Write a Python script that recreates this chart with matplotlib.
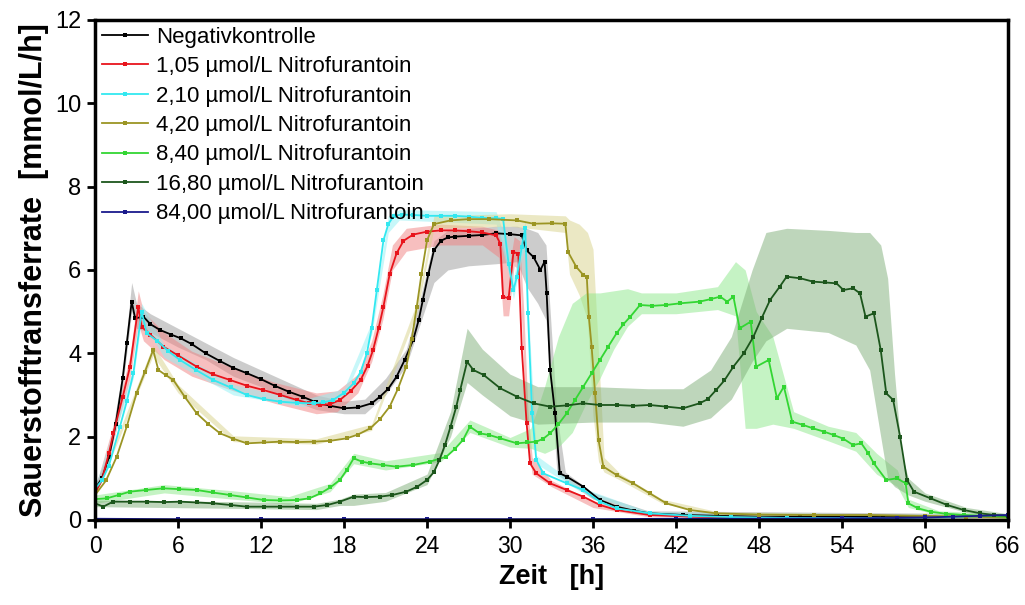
import numpy as np
import matplotlib
matplotlib.use('Agg')
import matplotlib.pyplot as plt

# Sauerstofftransferrate (OTR) über die Zeit, Mittelwert und Streuband je Ansatz
# Werte als (Zeit [h], OTR [mmol/L/h])

neg = [(0, 0.75), (0.5, 1.0), (1.0, 1.5), (1.5, 2.3), (2.0, 3.4), (2.3, 4.25), (2.65, 5.24), (2.9, 4.84),
       (3.5, 4.88), (4.0, 4.7), (4.7, 4.56), (5.5, 4.45), (6.2, 4.36), (7.0, 4.22), (8.0, 4.0), (9.0, 3.82),
       (10.0, 3.65), (11.0, 3.52), (12.0, 3.38), (13.0, 3.22), (14.0, 3.08), (15.0, 2.96), (16.0, 2.82),
       (17.0, 2.74), (18.0, 2.68), (19.0, 2.7), (20.0, 2.8), (20.6, 2.96), (21.2, 3.15), (21.8, 3.44),
       (22.4, 3.85), (23.0, 4.32), (23.4, 4.8), (23.7, 5.28), (24.1, 5.9), (24.5, 6.47), (25.0, 6.7),
       (25.5, 6.78), (26.0, 6.8), (27.0, 6.82), (28.0, 6.84), (29.0, 6.88), (30.0, 6.86), (30.85, 6.83),
       (31.2, 6.47), (31.7, 6.31), (32.2, 6.0), (32.5, 6.2), (32.65, 5.44), (32.9, 3.6), (33.26, 2.56),
       (33.6, 1.12), (34.1, 1.04), (35.3, 0.8), (36.5, 0.48), (37.7, 0.32), (39.0, 0.22), (40.1, 0.16),
       (42.5, 0.12), (45, 0.1), (48, 0.08), (51, 0.08), (54, 0.08), (57, 0.07), (60, 0.07), (63, 0.08),
       (66, 0.1)]
neg_band = [(0, 0.6, 0.85), (1, 1.35, 1.65), (2, 3.2, 3.6), (2.65, 5.0, 5.7), (3.0, 4.6, 5.2),
            (4, 4.5, 4.95), (6, 4.15, 4.6), (8, 3.85, 4.25), (10, 3.45, 3.9), (12, 3.2, 3.6),
            (14, 2.9, 3.3), (16, 2.65, 3.0), (18, 2.55, 2.85), (19.5, 2.55, 2.9), (21, 3.0, 3.4),
            (22.5, 3.7, 4.1), (23.5, 4.7, 5.3), (24.5, 5.7, 6.7), (25.5, 6.0, 6.95), (27, 6.1, 7.0),
            (29, 6.15, 7.05), (30.5, 6.2, 7.05), (31.2, 5.6, 7.0), (32, 5.2, 6.9), (32.6, 4.8, 6.6),
            (33, 3.0, 4.5), (33.4, 1.1, 2.5), (34, 0.95, 1.15), (36, 0.5, 0.65), (40, 0.12, 0.22),
            (66, 0.05, 0.15)]

n105 = [(0, 0.65), (0.5, 0.95), (1.0, 1.6), (1.33, 2.08), (2.0, 2.95), (2.53, 3.68), (3.13, 5.12),
        (3.37, 4.64), (4.0, 4.45), (4.94, 4.16), (6.0, 3.95), (7.35, 3.68), (8.5, 3.5), (9.76, 3.36),
        (11.0, 3.22), (12.17, 3.12), (13.4, 3.0), (14.6, 2.88), (15.5, 2.8), (16.3, 2.76), (17.0, 2.78),
        (17.7, 2.88), (18.5, 3.1), (19.2, 3.36), (19.7, 3.7), (20.1, 4.08), (20.5, 4.6), (20.85, 5.12),
        (21.3, 5.9), (21.8, 6.4), (22.3, 6.7), (23, 6.85), (24, 6.92), (25, 6.95), (26, 6.95), (27, 6.93),
        (28, 6.9), (29.0, 6.83), (29.3, 6.63), (29.5, 5.36), (29.9, 5.32), (30.25, 6.43), (30.6, 6.39),
        (30.85, 4.12), (31.2, 2.32), (31.45, 1.36), (31.9, 1.12), (32.9, 0.88), (34.1, 0.72), (35.3, 0.56),
        (36.5, 0.36), (37.7, 0.24), (40.1, 0.12), (43, 0.08), (46, 0.06), (50, 0.05), (54, 0.05),
        (58, 0.05), (62, 0.06), (66, 0.08)]
n105_band = [(0, 0.55, 0.75), (1.33, 1.9, 2.3), (2.53, 3.4, 3.95), (3.13, 4.7, 5.5), (3.5, 4.3, 5.0),
             (5, 3.85, 4.5), (7, 3.45, 4.05), (10, 3.1, 3.65), (13, 2.8, 3.3), (16, 2.55, 3.05),
             (17.5, 2.6, 3.1), (19, 3.05, 3.5), (20, 3.8, 4.3), (20.8, 4.8, 5.4), (21.5, 6.0, 6.6),
             (22.5, 6.45, 7.0), (25, 6.6, 7.1), (28, 6.6, 7.05), (29.2, 6.3, 6.95), (29.5, 4.9, 6.6),
             (29.9, 4.9, 6.0), (30.3, 6.1, 6.8), (30.7, 6.0, 6.7), (31.0, 3.5, 5.0), (31.3, 1.8, 2.6),
             (31.6, 1.1, 1.5), (33, 0.8, 0.95), (36, 0.3, 0.45), (40, 0.08, 0.17), (66, 0.03, 0.12)]

n210 = [(0, 0.75), (0.5, 0.95), (1.0, 1.3), (1.8, 2.24), (2.3, 2.85), (2.77, 3.52), (3.37, 5.0),
        (3.74, 4.48), (4.5, 4.3), (5.3, 4.05), (6.15, 3.84), (7.3, 3.6), (8.55, 3.36), (9.8, 3.18),
        (10.97, 3.0), (12.2, 2.9), (13.38, 2.84), (14.6, 2.81), (15.8, 2.8), (16.5, 2.82), (17.2, 2.88),
        (18.0, 3.05), (18.7, 3.28), (19.2, 3.55), (19.65, 4.0), (20.0, 4.6), (20.37, 5.52), (20.85, 6.71),
        (21.2, 7.1), (21.6, 7.3), (22.2, 7.33), (23, 7.32), (24, 7.3), (25, 7.3), (26, 7.3), (27, 7.28),
        (28, 7.25), (29.0, 7.24), (29.5, 7.23), (29.9, 6.15), (30.25, 5.52), (30.5, 5.84), (30.85, 6.55),
        (31.1, 7.0), (31.3, 4.96), (31.6, 2.56), (31.9, 1.44), (32.4, 1.12), (34.1, 0.88), (35.3, 0.72),
        (36.5, 0.44), (37.7, 0.28), (40.1, 0.16), (43, 0.1), (46, 0.07), (50, 0.05), (54, 0.05),
        (58, 0.05), (62, 0.06), (66, 0.08)]
n210_band = [(0, 0.7, 0.8), (2.77, 3.4, 3.65), (3.37, 4.8, 5.2), (5, 3.9, 4.2), (10, 3.0, 3.25),
             (15, 2.72, 2.88), (18, 2.95, 3.15), (20, 4.45, 4.75), (21.2, 6.9, 7.3), (22, 7.2, 7.45),
             (29.0, 7.1, 7.4), (29.9, 5.9, 6.5), (30.25, 5.3, 5.8), (30.85, 6.3, 6.8), (31.1, 6.6, 7.2),
             (31.3, 4.7, 5.2), (31.9, 1.35, 1.55), (35, 0.7, 0.8), (40, 0.12, 0.2), (66, 0.04, 0.12)]

n420 = [(0, 0.6), (0.8, 0.95), (1.57, 1.52), (2.3, 2.25), (3.0, 3.04), (3.6, 3.55), (4.2, 4.08),
        (4.58, 3.6), (5.1, 3.48), (5.66, 3.36), (6.5, 2.95), (7.35, 2.56), (8.2, 2.3), (9.04, 2.08),
        (10.0, 1.95), (10.97, 1.84), (12.2, 1.86), (13.38, 1.88), (14.6, 1.87), (15.8, 1.88), (17.0, 1.9),
        (18.2, 1.96), (19.0, 2.05), (19.9, 2.2), (20.6, 2.42), (21.3, 2.72), (21.9, 3.15), (22.5, 3.68),
        (22.9, 4.35), (23.26, 5.12), (23.6, 5.9), (24.0, 6.71), (24.5, 7.1), (25.7, 7.19), (27, 7.22),
        (28.5, 7.22), (30.5, 7.19), (31.7, 7.11), (33, 7.12), (34.0, 7.11), (34.2, 6.43), (34.8, 6.07),
        (35.3, 5.88), (35.55, 5.84), (35.7, 4.88), (35.9, 4.16), (36.15, 3.04), (36.4, 1.92),
        (36.75, 1.28), (37.7, 1.08), (38.9, 0.88), (40.1, 0.64), (41.3, 0.4), (43.0, 0.24), (44.9, 0.16),
        (48, 0.13), (52, 0.12), (56, 0.12), (60, 0.1), (63, 0.08), (66, 0.06)]
n420_band = [(0, 0.55, 0.65), (4.2, 3.95, 4.2), (6, 3.05, 3.25), (10, 1.88, 2.02), (16, 1.82, 1.95),
             (20, 2.15, 2.3), (23.3, 5.0, 5.25), (24.5, 7.0, 7.3), (30, 7.05, 7.35), (34.0, 6.9, 7.3),
             (34.3, 5.9, 7.2), (35.0, 5.4, 7.1), (35.6, 4.8, 6.9), (36.0, 2.5, 6.5), (36.4, 1.4, 4.0),
             (36.8, 1.15, 1.5), (38, 0.95, 1.1), (41, 0.4, 0.5), (45, 0.12, 0.2), (66, 0.03, 0.1)]

n840 = [(0, 0.5), (0.85, 0.52), (1.7, 0.6), (2.53, 0.68), (3.7, 0.72), (4.94, 0.76), (6.1, 0.74),
        (7.35, 0.72), (8.5, 0.66), (9.76, 0.6), (11.0, 0.54), (12.2, 0.48), (13.4, 0.47), (14.6, 0.48),
        (15.5, 0.52), (16.3, 0.64), (17.0, 0.78), (17.7, 0.96), (18.2, 1.2), (18.7, 1.48), (19.3, 1.4),
        (19.9, 1.36), (20.8, 1.32), (21.8, 1.28), (23.0, 1.32), (24.2, 1.4), (25.4, 1.52), (26.0, 1.7),
        (26.6, 1.92), (27.1, 2.24), (27.8, 2.08), (28.5, 2.04), (29.3, 1.96), (30.5, 1.84), (31.2, 1.86),
        (31.9, 1.88), (32.4, 1.95), (32.9, 2.08), (33.5, 2.3), (34.1, 2.56), (34.7, 2.88), (35.3, 3.2),
        (35.9, 3.52), (36.5, 3.84), (37.1, 4.16), (37.7, 4.48), (38.2, 4.7), (38.7, 4.88), (39.4, 5.16),
        (40.3, 5.14), (41.3, 5.16), (42.3, 5.2), (43.7, 5.24), (44.5, 5.3), (45.2, 5.36), (45.7, 5.24),
        (46.15, 5.36), (46.6, 4.6), (47.4, 4.76), (47.8, 3.68), (48.7, 3.84), (49.3, 2.92), (49.8, 3.2),
        (50.4, 2.36), (51.2, 2.28), (51.9, 2.2), (52.7, 2.12), (53.4, 2.04), (54.1, 1.95), (54.8, 1.8),
        (55.4, 1.84), (55.9, 1.6), (56.3, 1.36), (57.2, 0.96), (57.97, 1.0), (58.6, 0.88), (58.8, 0.4),
        (59.5, 0.28), (60.4, 0.2), (61.5, 0.15), (62.8, 0.12), (64, 0.1), (66, 0.08)]
n840_band = [(0, 0.4, 0.6), (5, 0.65, 0.85), (10, 0.5, 0.7), (14, 0.38, 0.56), (17, 0.68, 0.88),
             (18.7, 1.35, 1.6), (21, 1.2, 1.42), (25, 1.4, 1.62), (27.1, 2.1, 2.4), (30, 1.75, 1.98),
             (31.5, 1.72, 2.2), (32.5, 1.6, 3.2), (33.5, 1.75, 4.4), (34.5, 2.1, 5.2), (35.5, 2.8, 5.45),
             (36.5, 3.4, 5.45), (37.5, 4.1, 5.5), (38.5, 4.65, 5.55), (39.5, 4.95, 5.45), (42, 4.95, 5.45),
             (45, 5.05, 5.6), (46.3, 4.9, 6.2), (47, 2.2, 6.0), (47.8, 2.2, 5.0), (49, 2.3, 4.4),
             (50.5, 2.2, 2.6), (53, 1.9, 2.25), (55, 1.65, 2.1), (56.5, 1.1, 1.6), (58, 0.8, 1.2),
             (58.8, 0.3, 0.5), (61, 0.12, 0.22), (66, 0.04, 0.14)]

n1680 = [(0, 0.4), (0.6, 0.32), (1.3, 0.44), (2.5, 0.44), (3.74, 0.44), (5.0, 0.43), (6.15, 0.44),
         (7.4, 0.42), (8.55, 0.4), (9.8, 0.36), (10.97, 0.32), (12.2, 0.32), (13.4, 0.32), (14.6, 0.32),
         (15.8, 0.32), (16.8, 0.36), (17.7, 0.44), (18.7, 0.56), (19.6, 0.55), (20.6, 0.56), (21.5, 0.6),
         (22.5, 0.68), (23.3, 0.8), (24.0, 0.96), (24.5, 1.15), (24.9, 1.44), (25.3, 1.8), (25.7, 2.24),
         (26.1, 2.7), (26.4, 3.12), (26.9, 3.8), (27.35, 3.6), (28.1, 3.48), (29.3, 3.16), (30.5, 2.96),
         (31.7, 2.8), (32.9, 2.72), (34.1, 2.75), (35.3, 2.8), (36.5, 2.76), (37.7, 2.76), (38.9, 2.74),
         (40.1, 2.76), (41.3, 2.72), (42.5, 2.68), (43.7, 2.8), (44.3, 2.9), (44.9, 3.12), (45.5, 3.35),
         (46.15, 3.68), (46.9, 4.0), (47.6, 4.4), (48.2, 4.85), (48.8, 5.28), (49.5, 5.6), (50.0, 5.84),
         (51.0, 5.8), (51.9, 5.72), (52.8, 5.7), (53.6, 5.68), (54.1, 5.52), (54.8, 5.56), (55.3, 5.44),
         (55.7, 4.88), (56.3, 4.96), (56.8, 4.08), (57.2, 3.04), (57.7, 2.88), (58.2, 2.0), (58.7, 0.96),
         (59.2, 0.68), (60.4, 0.52), (61.6, 0.36), (62.8, 0.24), (64.0, 0.16), (65, 0.12), (66, 0.1)]
n1680_band = [(0, 0.32, 0.48), (10, 0.28, 0.44), (16, 0.25, 0.4), (17.7, 0.35, 0.5), (18.7, 0.35, 0.62),
              (21, 0.45, 0.66), (24, 0.85, 1.1), (25.7, 2.0, 2.6), (26.9, 3.3, 4.6), (28, 3.0, 4.1),
              (30, 2.5, 3.5), (32, 2.3, 3.2), (36, 2.35, 3.2), (40, 2.35, 3.15), (42.5, 2.25, 3.15),
              (44.5, 2.45, 3.6), (46, 2.9, 4.4), (47.5, 3.8, 6.0), (48.5, 4.3, 6.9), (50, 4.6, 7.0),
              (53, 4.5, 6.95), (55, 4.2, 6.9), (56, 3.6, 6.9), (56.8, 2.0, 6.6), (57.3, 1.0, 5.8),
              (57.8, 0.8, 3.5), (58.3, 0.7, 1.6), (58.8, 0.6, 1.0), (60, 0.45, 0.65), (63, 0.18, 0.3),
              (66, 0.05, 0.15)]

n8400 = [(0, 0.03), (6, 0.02), (12, 0.02), (18, 0.02), (24, 0.02), (30, 0.02), (36, 0.02), (42, 0.03),
         (48, 0.03), (54, 0.04), (58, 0.05), (60, 0.06), (62, 0.08), (64, 0.1), (66, 0.12)]

serien = [
    ('Negativkontrolle', neg, neg_band, '#000000', '#9a9a9a'),
    ('1,05 µmol/L Nitrofurantoin', n105, n105_band, '#e8141c', '#f08080'),
    ('2,10 µmol/L Nitrofurantoin', n210, n210_band, '#33e8f0', '#90f0f4'),
    ('4,20 µmol/L Nitrofurantoin', n420, n420_band, '#9b9524', '#d8d38a'),
    ('8,40 µmol/L Nitrofurantoin', n840, n840_band, '#33d633', '#8de88a'),
    ('16,80 µmol/L Nitrofurantoin', n1680, n1680_band, '#1c561c', '#7fae78'),
    ('84,00 µmol/L Nitrofurantoin', n8400, None, '#1a1a8c', None),
]

xticks = np.arange(0, 67, 6)
yticks = np.arange(0, 13, 2)

plt.rcParams['font.family'] = ['Liberation Sans', 'DejaVu Sans']

fig = plt.figure(figsize=(10.25, 6.05), dpi=100)
ax = fig.add_axes([0.0927, 0.1405, 0.8907, 0.8265])

# zuerst alle Streubänder, dann die Mittelwertkurven darüber
for name, werte, band, farbe, bandfarbe in serien:
    if band is None:
        continue
    tb, lo, hi = zip(*band)
    ax.fill_between(tb, lo, hi, color=bandfarbe, alpha=0.5, linewidth=0)

for name, werte, band, farbe, bandfarbe in serien:
    t, y = zip(*werte)
    ax.plot(t, y, color=farbe, lw=1.3, marker='s', ms=2.6, mew=0, label=name)

ax.set_xlim(0, 66)
ax.set_ylim(0, 12)
ax.set_xticks(xticks)
ax.set_yticks(yticks)

for s in ax.spines.values():
    s.set_linewidth(2.5)
ax.tick_params(direction='out', length=6, width=2)
ax.tick_params(axis='y', labelsize=17, pad=4)
ax.tick_params(axis='x', labelsize=16.5, pad=5)

ax.set_xlabel('Zeit   [h]', fontsize=19.5, fontweight='bold', labelpad=4)
ax.set_ylabel('Sauerstofftransferrate  [mmol/L/h]', fontsize=22, fontweight='bold', labelpad=4)

leg = ax.legend(loc='upper left', frameon=False, fontsize=16, handlelength=2.1,
                handletextpad=0.36, labelspacing=0.38, borderaxespad=0.0, borderpad=0.3)

fig.savefig('out.png', dpi=100)
